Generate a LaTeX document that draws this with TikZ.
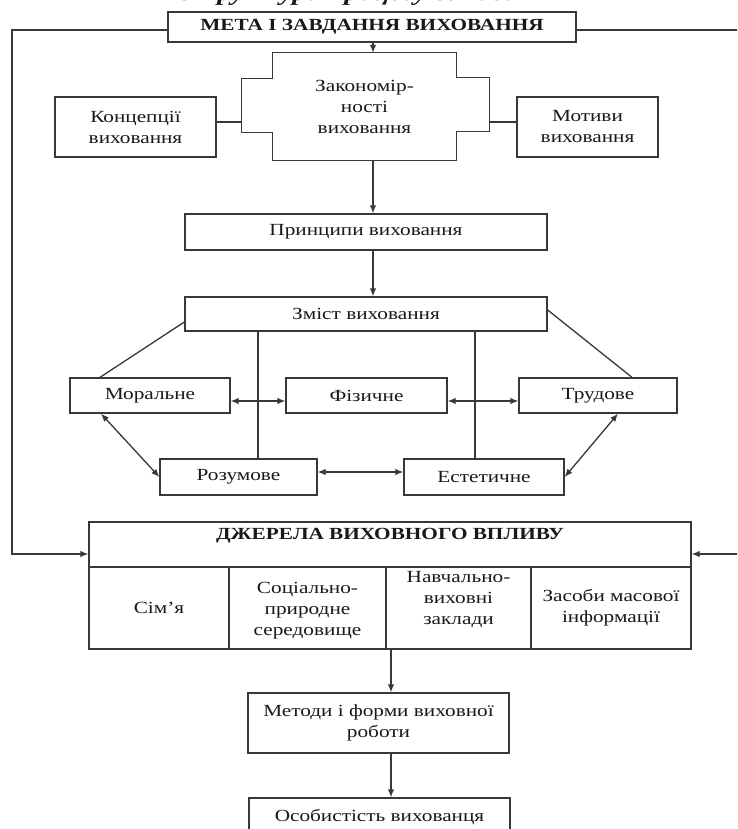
\documentclass[tikz,border=0pt]{standalone}
\usepackage{fontspec}
\setmainfont{Liberation Serif}[FakeStretch=1.25]
\usetikzlibrary{arrows.meta}
\begin{document}
\begin{tikzpicture}[x=1pt,y=-1pt,
  every node/.style={inner sep=0pt, align=center, text=black!90},
  txt/.style={font=\fontsize{17}{21}\selectfont},
  bx/.style={draw=black!78, line width=1.3pt, txt},
  ln/.style={draw=black!78, line width=1.3pt},
  arr/.style={ln, -{Latex[length=8pt,width=6.5pt]}},
  dbl/.style={ln, {Latex[length=8pt,width=6.5pt]}-{Latex[length=8pt,width=6.5pt]}},
  capsb/.style={font=\bfseries\fontsize{17}{20}\selectfont}]
\clip (0,0) rectangle (737,829);
\fill[white] (0,0) rectangle (737,829);
% cut-off heading
\node[anchor=base, font=\bfseries\itshape\fontsize{23}{23}\selectfont] (head) at (370,1) {Структура процесу виховання};
% coordinates for connectors
\coordinate (ax) at (373,0);
\coordinate (bxx) at (391,0);
\coordinate (vx1) at (258,0);
\coordinate (vx2) at (475,0);
\coordinate (zl) at (242,122);
\coordinate (zr) at (489,122);
\coordinate (L1) at (12,30);
\coordinate (L2) at (12,554);
\coordinate (R1) at (760,30);
\coordinate (R2) at (760,554);
% nodes
\node[bx, capsb, minimum width=408pt, minimum height=30pt] (title) at (372,27) {МЕТА І ЗАВДАННЯ ВИХОВАННЯ};
\node[txt, minimum width=183pt, minimum height=107pt] (zak) at (364.5,106.5) {Закономір-\\ності\\виховання};
\draw[ln] (zak.north west) -- (zak.north east) -- ++(0,25) -- ++(33,0) -- ++(0,54) -- ++(-33,0)
  -- (zak.south east) -- (zak.south west) -- ++(0,-28) -- ++(-31,0) -- ++(0,-54) -- ++(31,0) -- cycle;
\node[bx, minimum width=161pt, minimum height=60pt] (konc) at (135.5,127) {Концепції\\виховання};
\node[bx, minimum width=141pt, minimum height=60pt] (mot) at (587.5,127) {Мотиви\\виховання};
\node[bx, minimum width=362pt, minimum height=36pt] (prin) at (366,232) {Принципи виховання};
\node[bx, minimum width=362pt, minimum height=34pt] (zm) at (366,314) {Зміст виховання};
\node[bx, minimum width=160pt, minimum height=35pt] (mor) at (150,395.5) {Моральне};
\node[bx, minimum width=161pt, minimum height=35pt] (fiz) at (366.5,395.5) {Фізичне};
\node[bx, minimum width=158pt, minimum height=35pt] (trud) at (598,395.5) {Трудове};
\node[bx, minimum width=157pt, minimum height=36pt] (roz) at (238.5,477) {Розумове};
\node[bx, minimum width=160pt, minimum height=36pt] (est) at (484,477) {Естетичне};
\node[bx, minimum width=602pt, minimum height=45pt] (dzh) at (390,544.5) {};
\node[capsb] (dzht) at (390,536) {ДЖЕРЕЛА ВИХОВНОГО ВПЛИВУ};
\node[bx, minimum width=140pt, minimum height=82pt] (c1) at (159,608) {Сім’я};
\node[bx, minimum width=157pt, minimum height=82pt] (c2) at (307.5,608) {};
\node[txt] (c2t) at (307.5,611) {Соціально-\\природне\\середовище};
\node[bx, minimum width=145pt, minimum height=82pt] (c3) at (458.5,608) {};
\node[txt] (c3t) at (458.5,600) {Навчально-\\виховні\\заклади};
\node[bx, minimum width=160pt, minimum height=82pt] (c4) at (611,608) {Засоби масової\\інформації};
\node[bx, minimum width=261pt, minimum height=60pt] (met) at (378.5,723) {Методи і форми виховної\\роботи};
\node[bx, minimum width=261pt, minimum height=38pt] (os) at (379.5,817) {Особистість вихованця};
% connectors
\draw[arr] (title.south -| ax) -- (zak.north -| ax);
\draw[arr] (zak.south -| ax) -- (prin.north -| ax);
\draw[arr] (prin.south -| ax) -- (zm.north -| ax);
\draw[ln] (konc.east |- zl) -- (zl);
\draw[ln] (zr) -- (mot.west |- zr);
\draw[ln] ([yshift=-8pt]zm.west) -- ([xshift=-50pt]mor.north);
\draw[ln] ([yshift=4pt]zm.east) -- ([xshift=34pt]trud.north);
\draw[ln] (zm.south -| vx1) -- (roz.north -| vx1);
\draw[ln] (zm.south -| vx2) -- (est.north -| vx2);
\draw[dbl] ([yshift=-5.5pt]mor.east) -- ([yshift=-5.5pt]fiz.west);
\draw[dbl] ([yshift=-5.5pt]fiz.east) -- ([yshift=-5.5pt]trud.west);
\draw[dbl] ([yshift=5pt]roz.east) -- ([yshift=5pt]est.west);
\draw[dbl] ([xshift=-49pt]mor.south) -- (roz.west);
\draw[dbl] ([xshift=20pt]trud.south) -- (est.east);
\draw[arr] ([yshift=-3pt]title.west) -- (L1) -- (L2) -- (dzh.west |- L2);
\draw[arr] ([yshift=-3pt]title.east) -- (R1) -- (R2) -- (dzh.east |- R2);
\draw[arr] (c3.south -| bxx) -- (met.north -| bxx);
\draw[arr] (met.south -| bxx) -- (os.north -| bxx);
\end{tikzpicture}
\end{document}
